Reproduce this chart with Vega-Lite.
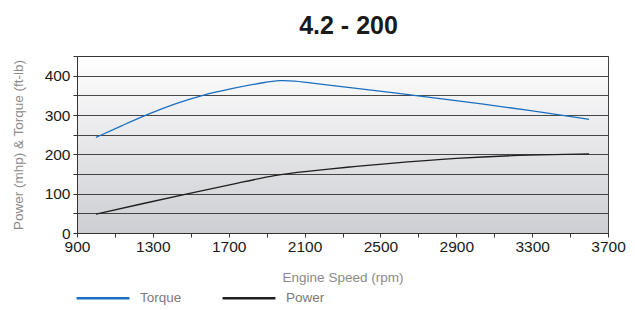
{
  "$schema": "https://vega.github.io/schema/vega-lite/v6.json",
  "width": 531,
  "height": 177,
  "autosize": "none",
  "padding": {"left": 77, "top": 56, "right": 27, "bottom": 77},
  "background": "white",
  "title": {"text": "4.2 - 200", "fontSize": 25, "font": "Liberation Sans", "fontWeight": "bold", "color": "#1a1a1a", "offset": 10, "anchor": "middle", "dx": 6},
  "data": {
    "values": [
      {"rpm": 1000, "value": 243, "series": "Torque"},
      {"rpm": 1150, "value": 276, "series": "Torque"},
      {"rpm": 1283, "value": 304, "series": "Torque"},
      {"rpm": 1420, "value": 329, "series": "Torque"},
      {"rpm": 1547, "value": 349, "series": "Torque"},
      {"rpm": 1722, "value": 368, "series": "Torque"},
      {"rpm": 1898, "value": 384, "series": "Torque"},
      {"rpm": 1969, "value": 388, "series": "Torque"},
      {"rpm": 2039, "value": 387, "series": "Torque"},
      {"rpm": 2162, "value": 380, "series": "Torque"},
      {"rpm": 2350, "value": 369, "series": "Torque"},
      {"rpm": 2548, "value": 358, "series": "Torque"},
      {"rpm": 2900, "value": 337, "series": "Torque"},
      {"rpm": 3300, "value": 311, "series": "Torque"},
      {"rpm": 3600, "value": 289, "series": "Torque"},
      {"rpm": 1000, "value": 48, "series": "Power"},
      {"rpm": 1250, "value": 75, "series": "Power"},
      {"rpm": 1500, "value": 102, "series": "Power"},
      {"rpm": 1750, "value": 127, "series": "Power"},
      {"rpm": 1950, "value": 148, "series": "Power"},
      {"rpm": 2100, "value": 156, "series": "Power"},
      {"rpm": 2338, "value": 168, "series": "Power"},
      {"rpm": 2500, "value": 175, "series": "Power"},
      {"rpm": 2900, "value": 191, "series": "Power"},
      {"rpm": 3300, "value": 199, "series": "Power"},
      {"rpm": 3600, "value": 201, "series": "Power"}
    ]
  },
  "config": {
    "font": "Liberation Sans",
    "view": {
      "stroke": "#444",
      "strokeWidth": 1,
      "fill": {
        "gradient": "linear",
        "x1": 0, "y1": 0, "x2": 0, "y2": 1,
        "stops": [
          {"offset": 0, "color": "#ffffff"},
          {"offset": 1, "color": "#cdced3"}
        ]
      }
    }
  },
  "mark": {"type": "line", "interpolate": "basis", "strokeWidth": 1.3},
  "encoding": {
    "x": {
      "field": "rpm", "type": "quantitative",
      "scale": {"domain": [900, 3700], "nice": false, "zero": false},
      "axis": {
        "title": "Engine Speed (rpm)",
        "titleColor": "#8a8a8a", "titleFontSize": 13.5, "titleFontWeight": "normal", "titlePadding": 16,
        "values": [900, 1100, 1300, 1500, 1700, 1900, 2100, 2300, 2500, 2700, 2900, 3100, 3300, 3500, 3700],
        "labelExpr": "(datum.value - 900) % 400 == 0 ? datum.label : ''",
        "labelFontSize": 15.5, "labelColor": "#1a1a1a", "labelPadding": 2,
        "format": "d",
        "grid": false, "domainColor": "#333", "tickColor": "#333", "tickSize": 4,
        "labelFlush": false, "labelOverlap": false
      }
    },
    "y": {
      "field": "value", "type": "quantitative",
      "scale": {"domain": [0, 450], "nice": false},
      "axis": {
        "title": "Power (mhp) & Torque (ft-lb)",
        "titleColor": "#8a8a8a", "titleFontSize": 13.5, "titleFontWeight": "normal", "titlePadding": 19,
        "values": [0, 50, 100, 150, 200, 250, 300, 350, 400, 450],
        "labelExpr": "datum.value % 100 == 0 ? datum.label : ''",
        "labelFontSize": 15.5, "labelColor": "#1a1a1a", "labelPadding": 3,
        "grid": true, "gridColor": "#333", "gridWidth": 1, "gridOpacity": 0.9,
        "domainColor": "#333", "tickColor": "#333", "tickSize": 4,
        "labelFlush": false, "labelOverlap": false
      }
    },
    "color": {
      "field": "series", "type": "nominal",
      "scale": {"domain": ["Torque", "Power"], "range": ["#1b6fc0", "#1e1e1e"]},
      "legend": {
        "title": null,
        "orient": "none", "legendX": -2, "legendY": 214,
        "direction": "horizontal",
        "symbolType": "stroke", "symbolSize": 2800, "symbolStrokeWidth": 2.4,
        "labelFontSize": 13.5, "labelColor": "#7a7a7a", "labelOffset": 9,
        "columnPadding": 35
      }
    }
  }
}
